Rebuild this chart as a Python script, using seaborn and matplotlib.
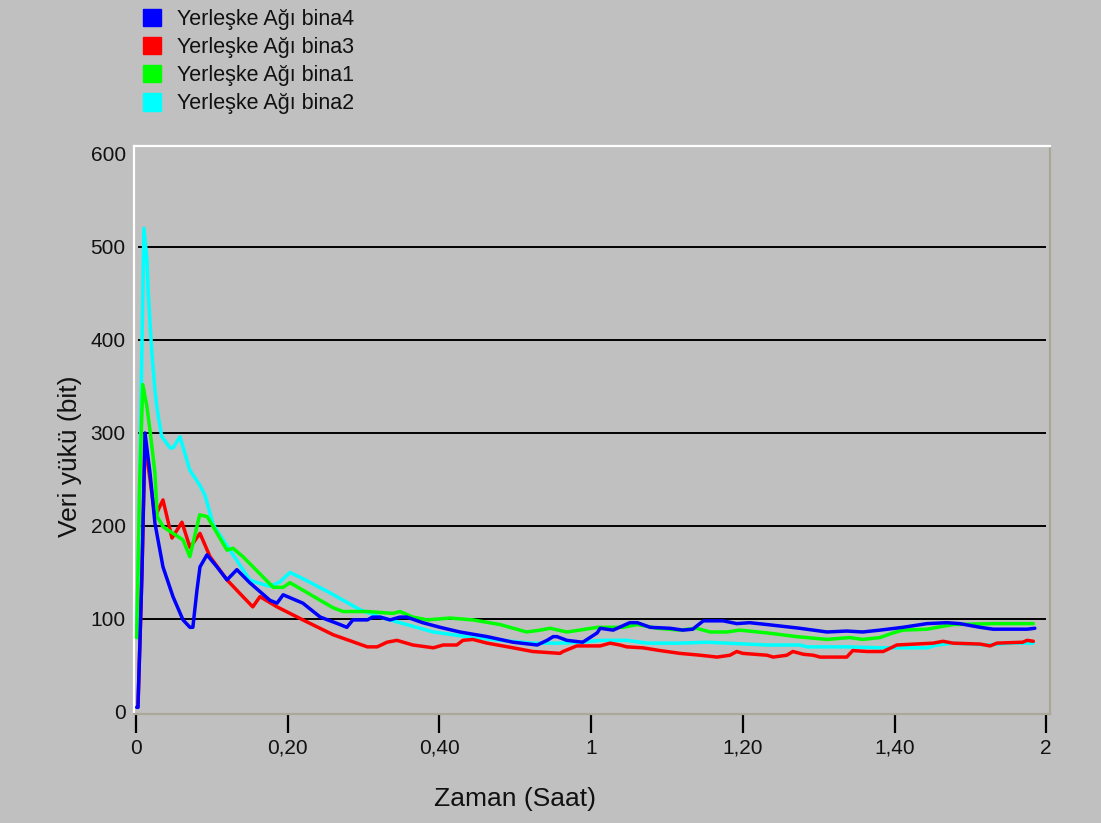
import pandas as pd
import matplotlib.pyplot as plt
import seaborn as sns
from matplotlib.patches import Patch

# Values (x in minutes, y in bit)
bina2_t = [0.1, 0.5, 0.8, 1.05, 1.45, 1.6, 1.85, 2.1, 2.5, 2.8, 3.4, 4.5, 4.9, 5.8, 7.1, 8.4, 9.1,
           10.2, 12.4, 15.0, 16.0, 17.7, 19.0, 20.3, 21.6, 25.6, 29.5, 32.2, 34.8, 39.2, 43.6, 48.0,
           52.3, 55.9, 58.9, 61.2, 64.7, 67.4, 71.7, 75.3, 77.9, 83.2, 87.5, 88.5, 93.7, 98.1,
           104.3, 105.6, 107.7, 112.2, 115.6, 118.3]
bina2_v = [80, 250, 400, 520, 486, 454, 418, 386, 346, 325, 296, 284, 284, 296, 260, 244, 233,
           201, 174, 142, 139, 135, 140, 150, 145, 128, 110, 102, 96, 86, 81, 77,
           74, 74, 75, 77, 77, 74, 74, 75, 74, 72, 72, 70, 70, 69,
           69, 72, 74, 72, 74, 74]

bina1_t = [0.1, 0.5, 0.9, 1.45, 1.85, 2.5, 2.8, 3.6, 4.9, 6.2, 7.1, 8.4, 9.4, 10.2, 12.0, 12.8,
           14.1, 18.1, 19.4, 20.3, 22.0, 24.3, 26.0, 27.3, 30.5, 33.9, 34.8, 36.5, 38.4, 41.4,
           44.4, 48.0, 51.5, 53.3, 54.6, 56.8, 58.5, 60.8, 64.2, 66.1, 68.7, 71.7, 73.9, 75.7,
           77.9, 79.6, 83.2, 87.1, 91.1, 94.1, 95.8, 98.1, 99.8, 101.1, 104.3, 105.6, 107.7,
           113.5, 118.3]
bina1_v = [80, 250, 352, 328, 303, 257, 210, 199, 192, 185, 167, 212, 210, 199, 174, 176,
           167, 134, 134, 139, 131, 120, 112, 108, 108, 106, 108, 102, 99, 101,
           99, 94, 86, 88, 90, 86, 88, 91, 91, 94, 90, 88, 90, 86,
           86, 88, 85, 81, 78, 80, 78, 80, 85, 88, 89, 91, 94,
           95, 95]

bina4_t = [0.1, 0.26, 0.53, 0.79, 1.19, 1.85, 2.5, 3.56, 4.88, 6.2, 7.12, 7.5, 8.04, 8.44, 9.36,
           10.68, 12.0, 13.3, 15.0, 17.67, 18.6, 19.4, 22.0, 24.3, 26.9, 27.8, 28.6, 30.5, 31.2,
           32.2, 33.5, 34.8, 35.7, 37.8, 40.1, 42.7, 46.3, 49.7, 52.9, 54.2, 55.0, 55.5, 56.8,
           58.9, 60.8, 61.2, 62.9, 65.1, 66.1, 67.8, 70.4, 72.1, 73.4, 74.8, 77.4, 79.2, 80.9,
           83.2, 87.5, 91.1, 93.7, 95.8, 98.1, 101.1, 104.3, 106.9, 108.6, 111.3, 113.0,
           117.5, 118.5]
bina4_v = [5, 5, 77, 150, 300, 257, 203, 156, 124, 99, 91, 91, 131, 156, 169,
           156, 142, 153, 139, 120, 117, 126, 117, 102, 94, 91, 99, 99, 102,
           102, 99, 102, 102, 96, 91, 86, 81, 75, 72, 77, 81, 81, 77,
           75, 85, 90, 88, 96, 96, 91, 90, 88, 89, 98, 98, 95, 96,
           94, 90, 86, 87, 86, 88, 91, 95, 96, 95, 91, 89,
           89, 90]

bina3_t = [0.26, 0.53, 0.79, 1.19, 1.85, 2.5, 3.56, 4.75, 6.06, 7.12, 8.44, 9.76, 12.0, 14.1, 15.4,
           16.35, 18.6, 22.0, 26.0, 30.5, 31.8, 33.1, 34.4, 36.5, 39.2, 40.5, 42.3, 43.1, 44.4,
           46.3, 49.7, 52.3, 55.9, 56.3, 58.1, 61.2, 62.5, 63.8, 64.7, 66.8, 69.1, 71.7, 74.4,
           76.6, 78.3, 79.2, 80.0, 83.2, 84.0, 85.8, 86.6, 88.0, 89.3, 90.2, 93.7, 94.5, 96.4,
           98.5, 99.8, 100.3, 105.1, 106.4, 107.7, 111.3, 112.6, 113.5, 116.9, 117.5, 118.3]
bina3_v = [5, 77, 150, 290, 250, 210, 228, 187, 204, 177, 192, 167, 142, 124, 113,
           124, 113, 99, 83, 70, 70, 75, 77, 72, 69, 72, 72, 77, 78,
           74, 69, 65, 63, 65, 71, 71, 74, 72, 70, 69, 66, 63, 61,
           59, 61, 65, 63, 61, 59, 61, 65, 62, 61, 59, 59, 66, 65,
           65, 70, 72, 74, 76, 74, 73, 71, 74, 75, 77, 76]

legend_labels = ['Yerleşke Ağı bina4', 'Yerleşke Ağı bina3', 'Yerleşke Ağı bina1', 'Yerleşke Ağı bina2']
colors = {'Yerleşke Ağı bina4': '#0000FF', 'Yerleşke Ağı bina3': '#FF0000',
          'Yerleşke Ağı bina1': '#00FF00', 'Yerleşke Ağı bina2': '#00FFFF'}
draw_order = ['Yerleşke Ağı bina2', 'Yerleşke Ağı bina3', 'Yerleşke Ağı bina1', 'Yerleşke Ağı bina4']

x_ticks = [0, 20, 40, 60, 80, 100, 120]
x_tick_labels = ['0', '0,20', '0,40', '1', '1,20', '1,40', '2']
y_ticks = [0, 100, 200, 300, 400, 500, 600]
y_grid = [100, 200, 300, 400, 500]

frames = []
for name, t, v in [('Yerleşke Ağı bina2', bina2_t, bina2_v), ('Yerleşke Ağı bina3', bina3_t, bina3_v),
                   ('Yerleşke Ağı bina1', bina1_t, bina1_v), ('Yerleşke Ağı bina4', bina4_t, bina4_v)]:
    frames.append(pd.DataFrame({'t': t, 'v': v, 'seri': name}))
df = pd.concat(frames, ignore_index=True)

sns.set_style('white')
plt.rcParams['font.family'] = ['Liberation Sans', 'DejaVu Sans']
bg = '#C0C0C0'

fig = plt.figure(figsize=(11.01, 8.23), dpi=100, facecolor=bg)
ax = fig.add_axes([134 / 1101, 1 - 714 / 823, 916 / 1101, 568 / 823])
ax.set_facecolor(bg)

ax.hlines(y_grid, 0.3, 120, color='#000000', linewidth=1.4, zorder=1)

sns.lineplot(data=df, x='t', y='v', hue='seri', hue_order=draw_order, palette=colors,
             estimator=None, sort=False, linewidth=2.5, legend=False, ax=ax, zorder=3)

ax.set_xlim(-0.26, 120.5)
ax.set_ylim(-2.2, 608.6)
ax.set_xticks(x_ticks)
ax.set_xticklabels(x_tick_labels)
ax.set_yticks(y_ticks)
ax.tick_params(axis='x', bottom=True, direction='out', length=14, width=1.6, color='black',
               pad=4, labelsize=15, labelcolor='#111111')
ax.tick_params(axis='y', left=False, length=0, pad=6, labelsize=15, labelcolor='#111111')

for side in ['left', 'top']:
    ax.spines[side].set_color('white')
    ax.spines[side].set_linewidth(1.6)
for side in ['right', 'bottom']:
    ax.spines[side].set_color('#ACA899')
    ax.spines[side].set_linewidth(1.6)

ax.set_xlabel('Zaman (Saat)', fontsize=19, color='#111111')
ax.set_ylabel('Veri yükü (bit)', fontsize=19, color='#111111')
ax.xaxis.set_label_coords(0.416, -0.128)
ax.yaxis.set_label_coords(-0.057, 0.454)

handles = [Patch(facecolor=colors[n], edgecolor=colors[n]) for n in legend_labels]
fig.legend(handles, legend_labels, loc='upper left', bbox_to_anchor=(143 / 1101, 1 - 9 / 823),
           frameon=False, fontsize=15.5, handlelength=0.85, handleheight=0.85,
           handletextpad=0.75, labelspacing=0.33, borderpad=0, borderaxespad=0,
           labelcolor='#111111')

fig.savefig('out.png', dpi=100, facecolor=bg)
